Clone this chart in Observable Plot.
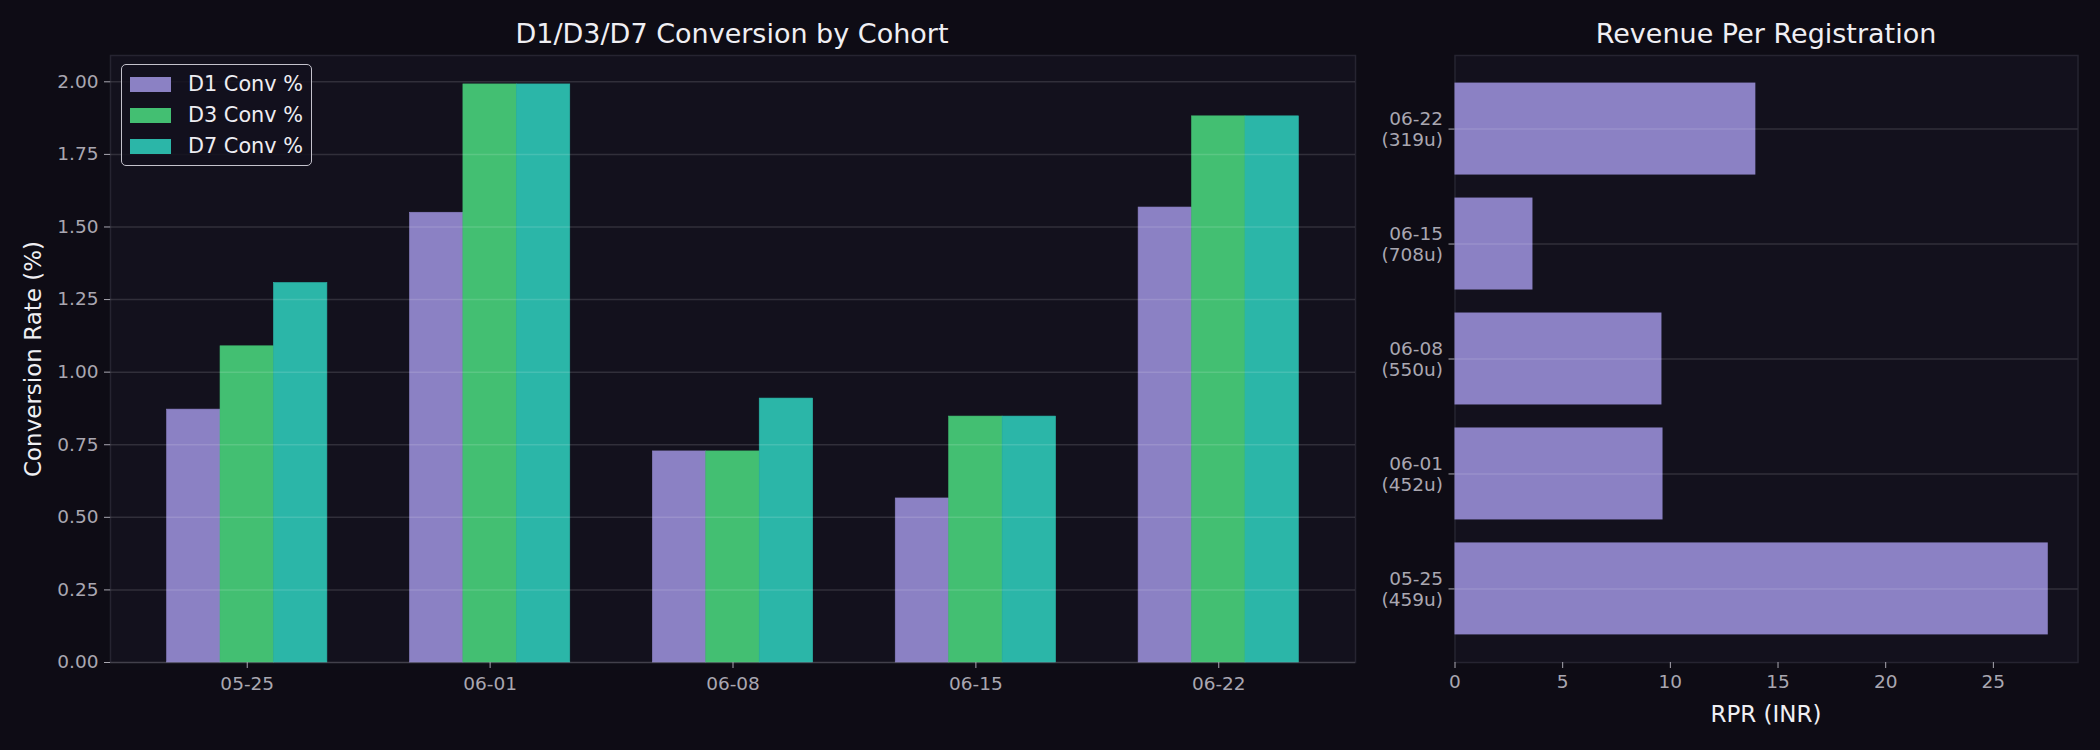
<!DOCTYPE html>
<html>
<head>
<meta charset="utf-8">
<script src="https://cdn.jsdelivr.net/npm/d3@7"></script>
<script src="https://cdn.jsdelivr.net/npm/@observablehq/plot@0.6"></script>
<style>
  html, body { margin: 0; padding: 0; background: #0e0c15; }
  body { width: 2100px; height: 750px; position: relative; overflow: hidden; font-family: "DejaVu Sans", sans-serif; }
  .abs { position: absolute; }
  .title { color: #f0eff3; font-size: 27px; white-space: nowrap; transform: translate(-50%, -50%); }
  .alabel { color: #f0eff3; font-size: 23px; white-space: nowrap; transform: translate(-50%, -50%); }
  .rot { transform: translate(-50%, -50%) rotate(-90deg); }
  .legend { border: 1.6px solid #c4c2cc; border-radius: 5px; background: rgba(19,17,29,0.85); box-sizing: border-box; }
  .legend .row { position: absolute; left: 0; height: 20px; display: flex; align-items: center; }
  .legend .sw { width: 41px; height: 15px; margin-left: 8px; }
  .legend .tx { color: #eeedf2; font-size: 20.8px; margin-left: 17px; white-space: nowrap; }
  svg.plot { overflow: visible; }
</style>
</head>
<body>
<div id="left" class="abs" style="left:0;top:0;"></div>
<div id="right" class="abs" style="left:1370px;top:0;"></div>
<script>
// ---- data ----
const cohorts = ["05-25", "06-01", "06-08", "06-15", "06-22"];
const users = [459, 452, 550, 708, 319];
const seriesNames = ["D1 Conv %", "D3 Conv %", "D7 Conv %"];
const d1Conv = [0.871, 1.549, 0.727, 0.565, 1.567];
const d3Conv = [1.089, 1.991, 0.727, 0.847, 1.881];
const d7Conv = [1.307, 1.991, 0.909, 0.847, 1.881];
const rpr = [27.55, 9.66, 9.61, 3.62, 13.97];
const yTicksLeft = [0, 0.25, 0.5, 0.75, 1.0, 1.25, 1.5, 1.75, 2.0];
const xTicksRight = [0, 5, 10, 15, 20, 25];
const colors = ["#8b81c4", "#43bf72", "#2bb6a8"];

const W = 0.22;
const seriesValues = [d1Conv, d3Conv, d7Conv];
const rows = [];
cohorts.forEach((c, i) => seriesNames.forEach((s, j) => rows.push({i, j, s, v: seriesValues[j][i]})));
const idx = cohorts.map((c, i) => i);

const baseStyle = {background: "transparent", color: "#a9a7b1", fontFamily: "DejaVu Sans", fontSize: "18.5px"};

const left = Plot.plot({
  width: 1380, height: 750,
  marginLeft: 110, marginRight: 25, marginTop: 55, marginBottom: 88,
  style: baseStyle,
  x: {domain: [-0.563, 4.563]},
  y: {domain: [0, 2.0906]},
  color: {domain: seriesNames, range: colors},
  marks: [
    Plot.frame({fill: "#13111d", stroke: "#262431", strokeWidth: 1.5}),
    Plot.rectY(rows, {
      x1: d => d.i + (d.j - 1) * W - W / 2,
      x2: d => d.i + (d.j - 1) * W + W / 2,
      y1: 0, y2: "v", fill: "s", stroke: "s", strokeWidth: 0.6, inset: 0
    }),
    Plot.gridY(yTicksLeft, {stroke: "#ffffff", strokeOpacity: 0.13, strokeWidth: 1.5}),
    Plot.axisY(yTicksLeft, {tickFormat: d3.format(".2f"), tickSize: 6, tickPadding: 6, label: null}),
    Plot.axisX(idx, {tickFormat: i => cohorts[i], tickSize: 6, tickPadding: 8, label: null})
  ]
});
document.getElementById("left").appendChild(left);

const right = Plot.plot({
  width: 730, height: 750,
  marginLeft: 84.5, marginRight: 22.5, marginTop: 55, marginBottom: 88,
  style: baseStyle,
  x: {domain: [0, 28.93]},
  y: {domain: [-0.64, 4.64]},
  marks: [
    Plot.frame({fill: "#13111d", stroke: "#262431", strokeWidth: 1.5}),
    Plot.rectX(rpr, {x1: 0, x2: d => d, y1: (d, i) => i - 0.4, y2: (d, i) => i + 0.4, fill: colors[0], inset: 0}),
    Plot.gridY(idx, {stroke: "#ffffff", strokeOpacity: 0.13, strokeWidth: 1.5}),
    Plot.axisY(idx, {tickFormat: i => `${cohorts[i]}\n(${users[i]}u)`, tickSize: 6, tickPadding: 6, lineHeight: 1.1, label: null}),
    Plot.axisX(xTicksRight, {tickSize: 6, tickPadding: 6, label: null})
  ]
});
document.getElementById("right").appendChild(right);

// titles and axis labels
function addText(cls, text, x, y) {
  const d = document.createElement("div");
  d.className = "abs " + cls;
  d.style.left = x + "px";
  d.style.top = y + "px";
  d.textContent = text;
  document.body.appendChild(d);
}
addText("title", "D1/D3/D7 Conversion by Cohort", 732, 33);
addText("title", "Revenue Per Registration", 1766, 33);
addText("alabel rot", "Conversion Rate (%)", 33, 359);
addText("alabel", "RPR (INR)", 1766, 714);

// legend
const lg = document.createElement("div");
lg.className = "abs legend";
Object.assign(lg.style, {left: "121px", top: "64px", width: "191px", height: "102px"});
seriesNames.forEach((s, j) => {
  const r = document.createElement("div");
  r.className = "row";
  r.style.top = (9 + j * 31) + "px";
  const sw = document.createElement("div");
  sw.className = "sw";
  sw.style.background = colors[j];
  const tx = document.createElement("div");
  tx.className = "tx";
  tx.textContent = s;
  r.appendChild(sw); r.appendChild(tx);
  lg.appendChild(r);
});
document.body.appendChild(lg);
</script>
</body>
</html>
